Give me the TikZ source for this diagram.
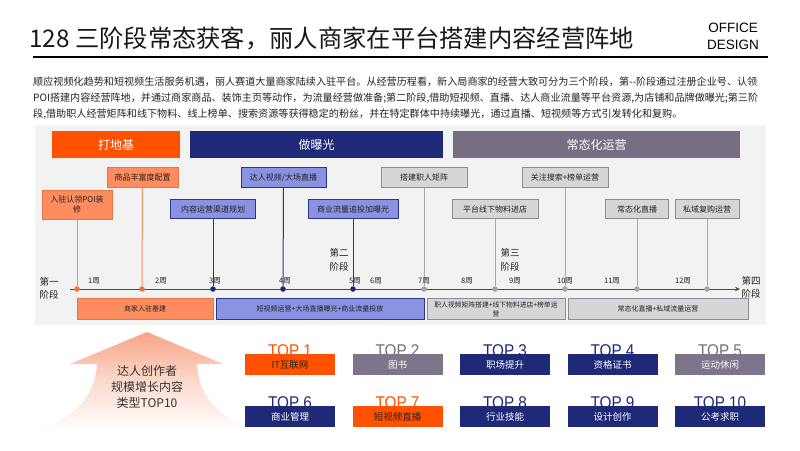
\documentclass[tikz,border=0pt]{standalone}
\usepackage{fontspec}
\setmainfont{Noto Sans CJK SC}
\newfontfamily\lat{Liberation Sans}
\newfontfamily\toplat[FakeStretch=0.9]{Liberation Sans}
\usetikzlibrary{arrows.meta}
\definecolor{orangeC}{HTML}{FF5100}
\definecolor{navyC}{HTML}{1E2A78}
\definecolor{purpC}{HTML}{776E84}
\definecolor{salC}{HTML}{FF8C5E}
\definecolor{salB}{HTML}{E8743F}
\definecolor{lavC}{HTML}{8A93E3}
\definecolor{lavB}{HTML}{2B3585}
\definecolor{greyC}{HTML}{D6D6D9}
\definecolor{greyB}{HTML}{8C8C94}
\definecolor{panelC}{HTML}{F2F2F2}
\definecolor{txtC}{HTML}{222222}
\definecolor{arrowC}{HTML}{F7A383}
\tikzset{
  fs/.style={font=\fontsize{#1}{\dimexpr#1pt*13/10\relax}\selectfont},
  hdr/.style={rectangle, minimum height=27pt, inner sep=0pt, text=white, fs=12},
  ms/.style={rectangle, draw, line width=0.9pt, inner sep=0pt, minimum height=19.5pt, fs=8, text=txtC, align=center},
  msO/.style={ms, fill=salC, draw=salB},
  msN/.style={ms, fill=lavC, draw=lavB},
  msG/.style={ms, fill=greyC, draw=greyB},
  dotO/.style={circle, fill=salB, inner sep=0pt, minimum size=5.5pt},
  dotN/.style={circle, fill=navyC, inner sep=0pt, minimum size=5.5pt},
  dotG/.style={circle, fill=greyB!80, inner sep=0pt, minimum size=5.5pt},
  lnO/.style={draw=salB!80, line width=1pt},
  lnN/.style={draw=lavB, line width=1pt},
  lnG/.style={draw=greyB!75, line width=1pt},
  wk/.style={fs=7.5, text=txtC, inner sep=0pt},
  stg/.style={font=\fontsize{9.5}{13.5}\selectfont, text=txtC, align=center, inner sep=0pt},
  bar/.style={rectangle, draw, line width=0.9pt, inner sep=0pt, minimum height=20.5pt, fs=7, text=txtC, align=center},
  para/.style={anchor=west, fs=10.1, text=txtC, inner sep=0pt},
  toptxt/.style={anchor=base, font=\toplat\fontsize{17}{20}\selectfont, inner sep=0pt},
  topbox/.style={rectangle, minimum width=90pt, minimum height=21pt, inner sep=0pt, fs=9.5, text=white},
}
\begin{document}
\begin{tikzpicture}[x=1pt,y=-1pt]
\useasboundingbox[fill=white] (0,0) rectangle (800,450);
% title
\node[anchor=west, inner sep=0pt, fs=24.3, text=black!90] (title) at (29,38) {128 三阶段常态获客，丽人商家在平台搭建内容经营阵地};
\node[font=\lat\fontsize{13.5}{17}\selectfont, align=center, inner sep=0pt] (office) at (733,36) {OFFICE\\DESIGN};
\draw[line width=1.5pt] (33,57) -- (768,57);
% paragraph
\node[para] (p1) at (33,82) {顺应视频化趋势和短视频生活服务机遇，丽人赛道大量商家陆续入驻平台。从经营历程看，新入局商家的经营大致可分为三个阶段，第-{}-阶段通过注册企业号、认领};
\node[para] (p2) at (33,98) {POI搭建内容经营阵地，并通过商家商品、装饰主页等动作，为流量经营做准备;第二阶段,借助短视频、直播、达人商业流量等平台资源,为店铺和品牌做曝光;第三阶};
\node[para] (p3) at (33,114) {段,借助职人经营矩阵和线下物料、线上榜单、搜索资源等获得稳定的粉丝，并在特定群体中持续曝光，通过直播、短视频等方式引发转化和复购。};
% panel
\fill[panelC] (35,125) rectangle (766,325);
% headers
\node[hdr, fill=orangeC, minimum width=128pt] (h1) at (116,144.5) {打地基};
\node[hdr, fill=navyC, minimum width=253pt] (h2) at (316.5,144.5) {做曝光};
\node[hdr, fill=purpC, minimum width=287pt] (h3) at (596.5,144.5) {常态化运营};
% timeline
\coordinate (t0) at (70,289);
\coordinate (t1) at (740,289);
\draw[line width=1pt, draw=black!70, -{Stealth[length=5pt,width=4.5pt]}] (t0) -- (t1);
% milestones
\node[msO, minimum width=70pt, minimum height=29pt] (m1) at (77,204.5) {入驻认领POI装\\修};
\node[msO, minimum width=71pt] (m2) at (142.5,177.5) {商品丰富度配置};
\node[msN, minimum width=85pt] (m3) at (213,209) {内容运营渠道规划};
\node[msN, minimum width=85pt] (m4) at (283.5,177.5) {达人视频/大场直播};
\node[msN, minimum width=90pt] (m5) at (353,209) {商业流量追投加曝光};
\node[msG, minimum width=86pt] (m6) at (424,177.5) {搭建职人矩阵};
\node[msG, minimum width=86pt] (m7) at (495,209) {平台线下物料进店};
\node[msG, minimum width=86pt] (m8) at (565,177.5) {关注搜索+榜单运营};
\node[msG, minimum width=63pt] (m9) at (637,209) {常态化直播};
\node[msG, minimum width=64pt] (m10) at (707,209) {私域复购运营};
% dots
\node[dotO] (d1) at (77,289) {};
\node[dotO] (d2) at (142,289) {};
\node[dotN] (d3) at (213,289) {};
\node[dotN] (d4) at (283,289) {};
\node[dotN] (d5) at (353,289) {};
\node[dotG] (d6) at (424,289) {};
\node[dotG] (d7) at (495,289) {};
\node[dotG] (d8) at (565,289) {};
\node[dotG] (d9) at (637,289) {};
\node[dotG] (d10) at (707,289) {};
\draw[lnO] (m1.south) -- (d1);
\draw[lnO] (m2.south) -- (d2);
\draw[lnN] (m3.south) -- (d3);
\draw[lnN] (m4.south) -- (d4);
\draw[lnN] (m5.south) -- (d5);
\draw[lnG] (m6.south) -- (d6);
\draw[lnG] (m7.south) -- (d7);
\draw[lnG] (m8.south) -- (d8);
\draw[lnG] (m9.south) -- (d9);
\draw[lnG] (m10.south) -- (d10);
% week labels
\node[wk] (w1) at (94,281) {1周};
\node[wk] (w2) at (161,281) {2周};
\node[wk] (w3) at (215,281) {3周};
\node[wk] (w4) at (285,281) {4周};
\node[wk] (w5) at (355,281) {5周};
\node[wk] (w6) at (376,281) {6周};
\node[wk] (w7) at (424,281) {7周};
\node[wk] (w8) at (467,281) {8周};
\node[wk] (w9) at (515,281) {9周};
\node[wk] (w10) at (565,281) {10周};
\node[wk] (w11) at (612,281) {11周};
\node[wk] (w12) at (683,281) {12周};
% stage labels
\node[stg] (s1) at (49,288.5) {第一\\阶段};
\node[stg] (s2) at (339,260) {第二\\阶段};
\node[stg] (s3) at (510,260) {第三\\阶段};
\node[stg] (s4) at (751,287.5) {第四\\阶段};
% bottom bars
\node[bar, fill=salC, draw=salB, minimum width=136pt] (b1) at (145,309) {商家入驻基建};
\node[bar, fill=lavC, draw=lavB, minimum width=208pt] (b2) at (320,309) {短视频运营+大场直播曝光+商业流量投放};
\node[bar, fill=greyC, draw=greyB, minimum width=138pt, fs=6.8] (b3) at (496,309) {职人视频矩阵搭建+线下物料进店+榜单运\\营};
\node[bar, fill=greyC, draw=greyB, minimum width=180pt] (b4) at (658,309) {常态化直播+私域流量运营};
% big arrow
\shade[top color=arrowC, bottom color=white, middle color=arrowC!40] (147,332) -- (223,364) -- (197,364) .. controls (199,395) and (215,418) .. (262,432) -- (30,432) .. controls (78,418) and (95,395) .. (97,364) -- (70,364) -- cycle;
\node[fs=12, text=black!80, align=center, inner sep=0pt] (atext) at (147,387) {达人创作者\\规模增长内容\\类型TOP10};
% TOP grid
\foreach \i/\x/\tc in {1/290/orangeC,2/397.5/purpC,3/505/navyC,4/612.5/navyC,5/720/purpC}{
  \node[toptxt, text=\tc] (tt\i) at (\x,356) {TOP \i};
}
\foreach \i/\x/\tc in {6/290/navyC,7/397.5/orangeC,8/505/navyC,9/612.5/navyC,10/720/navyC}{
  \node[toptxt, text=\tc] (tt\i) at (\x,408) {TOP \i};
}
\node[topbox, fill=orangeC, text=black!85] (tb1) at (290,364.5) {IT互联网};
\node[topbox, fill=purpC!95] (tb2) at (397.5,364.5) {图书};
\node[topbox, fill=navyC] (tb3) at (505,364.5) {职场提升};
\node[topbox, fill=navyC] (tb4) at (612.5,364.5) {资格证书};
\node[topbox, fill=purpC!95] (tb5) at (720,364.5) {运动休闲};
\node[topbox, fill=navyC] (tb6) at (290,416.5) {商业管理};
\node[topbox, fill=orangeC, text=black!85] (tb7) at (397.5,416.5) {短视频直播};
\node[topbox, fill=navyC] (tb8) at (505,416.5) {行业技能};
\node[topbox, fill=navyC] (tb9) at (612.5,416.5) {设计创作};
\node[topbox, fill=navyC] (tb10) at (720,416.5) {公考求职};
\end{tikzpicture}
\end{document}
